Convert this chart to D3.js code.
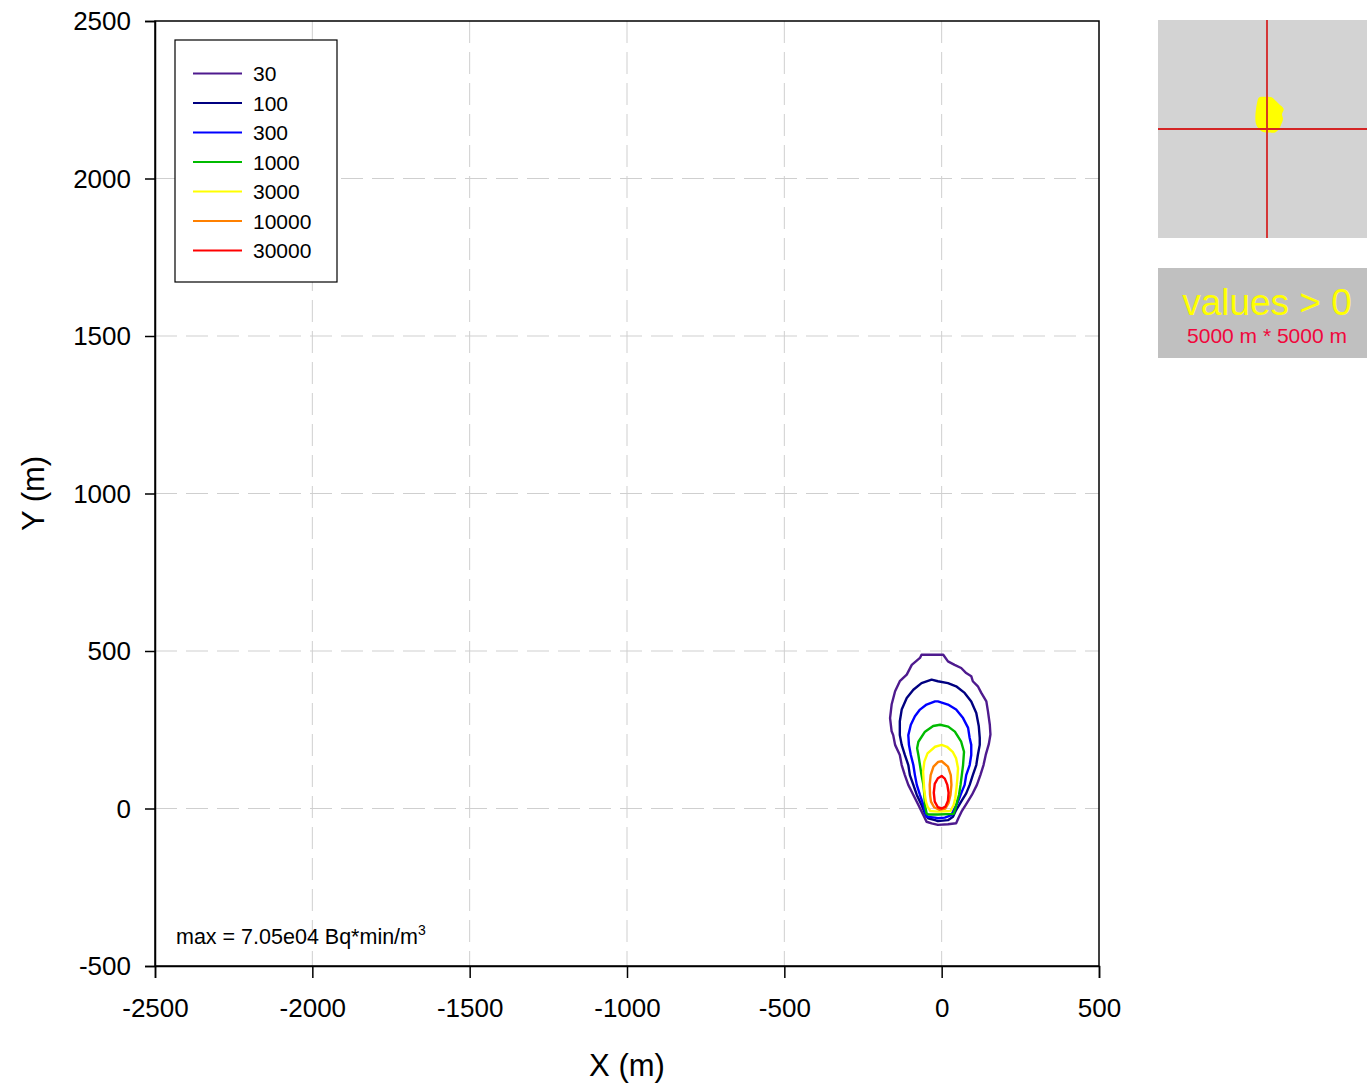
<!DOCTYPE html>
<html>
<head>
<meta charset="utf-8">
<script src="https://cdn.jsdelivr.net/npm/d3@7"></script>
<style>
  html, body { margin: 0; padding: 0; background: #fff; }
  svg { display: block; font-family: "Liberation Sans", Arial, Helvetica, sans-serif; }
</style>
</head>
<body>
<svg id="chart" width="1367" height="1083"></svg>
<script>
// ---------- DATA (metres) ----------
const xTicks = [-2500, -2000, -1500, -1000, -500, 0, 500];
const yTicks = [-500, 0, 500, 1000, 1500, 2000, 2500];
const levels = [30, 100, 300, 1000, 3000, 10000, 30000];
const levelLabels = ["30", "100", "300", "1000", "3000", "10000", "30000"];

const contour30 = [[-64,488],[5,488],[20,467],[41,456],[62,446],[78,430],[94,420],[99,404],[115,388],[126,367],[142,340],[147,309],[153,266],[155,235],[150,205],[140,170],[133,138],[123,106],[112,75],[96,43],[76,11],[63,-10],[53,-31],[46,-47],[20,-50],[-12,-52],[-32,-47],[-48,-42],[-58,-21],[-74,11],[-90,43],[-106,75],[-117,106],[-127,138],[-133,170],[-148,202],[-154,233],[-159,245],[-164,287],[-159,330],[-148,372],[-133,404],[-111,425],[-95,456],[-69,478]];
const contour100 = [[-12,404],[20,398],[46,388],[73,367],[94,340],[110,303],[118,261],[121,224],[121,202],[115,170],[110,138],[99,106],[89,75],[78,48],[62,22],[46,-5],[36,-26],[20,-37],[-12,-40],[-21,-37],[-43,-31],[-53,-15],[-64,11],[-79,43],[-90,75],[-101,106],[-106,138],[-117,170],[-127,202],[-133,233],[-133,277],[-127,314],[-111,351],[-90,377],[-64,398],[-32,409]];
const contour300 = [[-12,340],[20,330],[46,314],[68,287],[84,256],[89,224],[94,202],[94,170],[89,138],[78,106],[73,75],[62,48],[52,22],[41,1],[31,-21],[10,-29],[-12,-31],[-21,-29],[-48,-26],[-53,-10],[-58,11],[-69,43],[-79,75],[-85,106],[-90,138],[-98,170],[-104,202],[-106,233],[-98,266],[-85,293],[-69,314],[-48,330],[-21,340]];
const contour1000 = [[-5,266],[21,260],[42,244],[62,212],[71,180],[68,138],[64,106],[60,75],[55,43],[49,22],[44,1],[38,-17],[-12,-19],[-43,-19],[-48,-15],[-53,11],[-55,43],[-58,75],[-64,106],[-69,138],[-74,170],[-78,191],[-74,212],[-53,244],[-27,262]];
const contour3000 = [[0,202],[17,196],[35,180],[46,159],[52,128],[50,96],[47,64],[43,32],[38,11],[28,-8],[-12,-10],[-36,-8],[-45,6],[-50,22],[-55,53],[-57,85],[-59,117],[-55,149],[-45,175],[-21,196]];
const contour10000 = [[0,150],[20,133],[29,106],[31,75],[28,43],[22,18],[12,0],[-8,-4],[-24,4],[-34,22],[-37,43],[-38,75],[-35,106],[-26,133],[-11,148]];
const contour30000 = [[0,103],[10,95],[18,75],[22,50],[20,25],[12,6],[0,0],[-12,4],[-22,22],[-25,50],[-22,78],[-12,96]];
const contours = [contour30, contour100, contour300, contour1000, contour3000, contour10000, contour30000];

// overview inset: region with values > 0 (metres, 5000 m x 5000 m window)
const insetBlob = [[-184,725],[-60,740],[115,725],[206,642],[275,573],[383,459],[344,344],[367,229],[321,92],[275,0],[184,-78],[46,-78],[-92,-69],[-184,0],[-252,115],[-268,275],[-252,459],[-229,596],[-206,688]];
const insetDomain = [-2500, 2500];
const maxText = "max = 7.05e04 Bq*min/m";

// ---------- STYLE ----------
const colors = ["#4e1a8e", "#000080", "#0000ff", "#00bb00", "#ffff00", "#ff8000", "#ff0000"];
const svg = d3.select("#chart");
const plot = { left: 155, right: 1099, top: 21, bottom: 966 };

const x = d3.scaleLinear().domain([-2500, 500]).range([plot.left, plot.right]);
const y = d3.scaleLinear().domain([-500, 2500]).range([plot.bottom, plot.top]);

// grid
const grid = svg.append("g").attr("stroke", "#cfcfcf").attr("stroke-width", 1).attr("stroke-dasharray", "22,9");
grid.selectAll("line.v").data(xTicks.slice(1, -1)).join("line")
  .attr("x1", d => x(d)).attr("x2", d => x(d)).attr("y1", plot.top).attr("y2", plot.bottom);
grid.selectAll("line.h").data(yTicks.slice(1, -1)).join("line")
  .attr("y1", d => y(d)).attr("y2", d => y(d)).attr("x1", plot.left).attr("x2", plot.right);

// contours
const line = d3.line().x(d => x(d[0])).y(d => y(d[1])).curve(d3.curveLinearClosed);
svg.append("g").selectAll("path").data(contours).join("path")
  .attr("d", d => line(d)).attr("fill", "none")
  .attr("stroke", (d, i) => colors[i]).attr("stroke-width", 2.4).attr("stroke-linejoin", "round");

// frame
svg.append("rect").attr("x", plot.left).attr("y", plot.top)
  .attr("width", plot.right - plot.left).attr("height", plot.bottom - plot.top)
  .attr("fill", "none").attr("stroke", "#000").attr("stroke-width", 1.5);

// axes
const fmt = d => String(d);
const xAxis = svg.append("g").attr("transform", `translate(0,${plot.bottom})`)
  .call(d3.axisBottom(x).tickValues(xTicks).tickSize(12).tickPadding(14).tickFormat(fmt));
const yAxis = svg.append("g").attr("transform", `translate(${plot.left},0)`)
  .call(d3.axisLeft(y).tickValues(yTicks).tickSize(10).tickPadding(14).tickFormat(fmt));
[xAxis, yAxis].forEach(a => {
  a.select(".domain").attr("stroke", "#000").attr("stroke-width", 1.5);
  a.selectAll(".tick line").attr("stroke", "#000").attr("stroke-width", 1.5);
  a.selectAll(".tick text").attr("font-size", 26).attr("fill", "#000")
    .attr("font-family", "'Liberation Sans', Arial, sans-serif");
});
xAxis.selectAll(".tick text").attr("dy", null).attr("y", 51);
yAxis.selectAll(".tick text").attr("dy", "0.34em");

// axis titles
svg.append("text").attr("x", (plot.left + plot.right) / 2).attr("y", 1076)
  .attr("text-anchor", "middle").attr("font-size", 31).text("X (m)");
svg.append("text").attr("transform", `translate(44,${(plot.top + plot.bottom) / 2}) rotate(-90)`)
  .attr("text-anchor", "middle").attr("font-size", 31).text("Y (m)");

// legend
const lg = svg.append("g");
lg.append("rect").attr("x", 175).attr("y", 40).attr("width", 162).attr("height", 242)
  .attr("fill", "#fff").attr("stroke", "#000").attr("stroke-width", 1.2);
const items = lg.selectAll("g.item").data(levels).join("g")
  .attr("transform", (d, i) => `translate(0,${73.5 + i * 29.5})`);
items.append("line").attr("x1", 193).attr("x2", 242).attr("y1", 0).attr("y2", 0)
  .attr("stroke", (d, i) => colors[i]).attr("stroke-width", 2.2);
items.append("text").attr("x", 253).attr("y", 7.5).attr("font-size", 21).attr("fill", "#000")
  .text((d, i) => levelLabels[i]);

// max annotation
const mt = svg.append("text").attr("x", 176).attr("y", 944).attr("font-size", 21.5).attr("fill", "#000");
mt.append("tspan").text(maxText);
mt.append("tspan").attr("font-size", 14).attr("dy", -9).text("3");

// inset overview
const ix = d3.scaleLinear().domain(insetDomain).range([1158, 1376]);
const iy = d3.scaleLinear().domain(insetDomain).range([238, 20]);
const inset = svg.append("g");
inset.append("rect").attr("x", 1158).attr("y", 20).attr("width", 218).attr("height", 218).attr("fill", "#d3d3d3");
const iline = d3.line().x(d => ix(d[0])).y(d => iy(d[1])).curve(d3.curveCatmullRomClosed);
inset.append("path").attr("d", iline(insetBlob)).attr("fill", "#ffff00");
inset.append("line").attr("x1", ix(0)).attr("x2", ix(0)).attr("y1", 20).attr("y2", 238)
  .attr("stroke", "#d42525").attr("stroke-width", 1.8);
inset.append("line").attr("y1", iy(0)).attr("y2", iy(0)).attr("x1", 1158).attr("x2", 1376)
  .attr("stroke", "#d42525").attr("stroke-width", 1.8);

// info box
svg.append("rect").attr("x", 1158).attr("y", 268).attr("width", 218).attr("height", 90).attr("fill", "#c0c0c0");
svg.append("text").attr("x", 1267).attr("y", 315).attr("text-anchor", "middle")
  .attr("font-size", 37).attr("fill", "#ffff00").text("values > 0");
svg.append("text").attr("x", 1267).attr("y", 343).attr("text-anchor", "middle")
  .attr("font-size", 21).attr("fill", "#f0073c").text("5000 m * 5000 m");
</script>
</body>
</html>
